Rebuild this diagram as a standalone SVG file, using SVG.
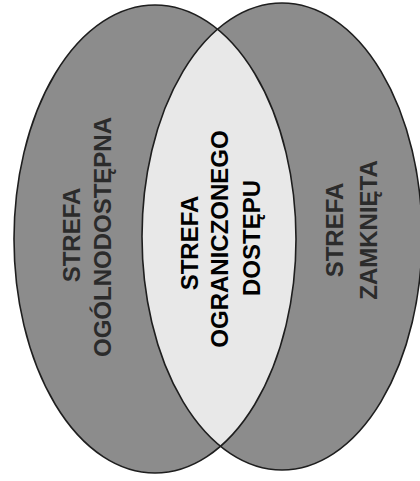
<svg xmlns="http://www.w3.org/2000/svg" width="420" height="481" viewBox="0 0 420 481">
<style>
.zone{fill:#8c8c8c;stroke:none}
.lens{fill:#e8e8e8;stroke:none}
.outline{fill:none;stroke:#1e1e1e;stroke-width:1.6}
.lbl{font-family:"Liberation Sans",Arial,sans-serif;font-weight:bold;font-size:24px;text-anchor:middle;fill:#2b2b2b}
.lbl-mid{fill:#000}
</style>
<defs>
<clipPath id="clipLeft"><ellipse cx="155" cy="239" rx="141" ry="234"/></clipPath>
</defs>
<rect width="420" height="481" fill="#ffffff"/>
<g id="zone-left">
<ellipse class="zone" cx="155" cy="239" rx="141" ry="234"/>
</g>
<g id="zone-right">
<ellipse class="zone" cx="282" cy="236.5" rx="140" ry="233.5"/>
</g>
<g id="zone-middle">
<ellipse class="lens" cx="282" cy="236.5" rx="140" ry="233.5" clip-path="url(#clipLeft)"/>
</g>
<g id="outlines">
<ellipse class="outline" cx="155" cy="239" rx="141" ry="234"/>
<ellipse class="outline" cx="282" cy="236.5" rx="140" ry="233.5"/>
</g>
<g id="label-left">
<text class="lbl" transform="translate(80,235) rotate(-90)">STREFA</text>
<text class="lbl" transform="translate(111,237) rotate(-90)">OGÓLNODOSTĘPNA</text>
</g>
<g id="label-middle">
<text class="lbl lbl-mid" transform="translate(198,243) rotate(-90)">STREFA</text>
<text class="lbl lbl-mid" transform="translate(228,239) rotate(-90)">OGRANICZONEGO</text>
<text class="lbl lbl-mid" transform="translate(260,238) rotate(-90)">DOSTĘPU</text>
</g>
<g id="label-right">
<text class="lbl" transform="translate(343,230) rotate(-90)">STREFA</text>
<text class="lbl" transform="translate(377,230) rotate(-90)">ZAMKNIĘTA</text>
</g>
</svg>
